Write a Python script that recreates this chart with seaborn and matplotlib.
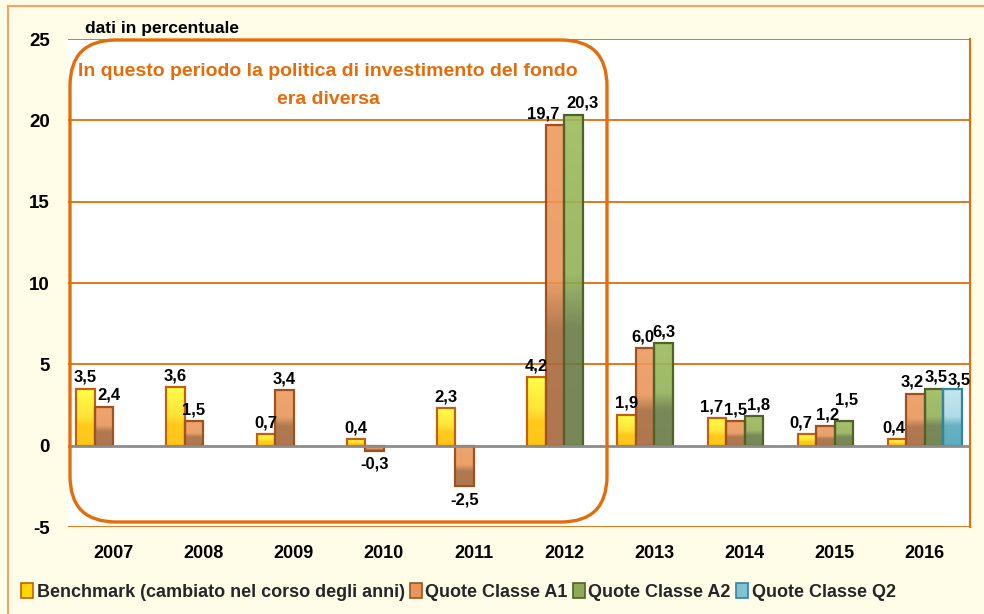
import numpy as np
import pandas as pd
import matplotlib
matplotlib.use("Agg")
import matplotlib.pyplot as plt
from matplotlib.colors import LinearSegmentedColormap
from matplotlib.patches import FancyBboxPatch, Rectangle, Patch
from matplotlib.transforms import IdentityTransform
import seaborn as sns

# ---- data -------------------------------------------------------------
anni = ["2007", "2008", "2009", "2010", "2011", "2012", "2013", "2014", "2015", "2016"]
serie = ["Benchmark (cambiato nel corso degli anni)", "Quote Classe A1",
         "Quote Classe A2", "Quote Classe Q2"]
benchmark = [3.5, 3.6, 0.7, 0.4, 2.3, 4.2, 1.9, 1.7, 0.7, 0.4]
classe_a1 = [2.4, 1.5, 3.4, -0.3, -2.5, 19.7, 6.0, 1.5, 1.2, 3.2]
classe_a2 = [np.nan, np.nan, np.nan, np.nan, np.nan, 20.3, 6.3, 1.8, 1.5, 3.5]
classe_q2 = [np.nan] * 9 + [3.5]
y_ticks = [-5, 0, 5, 10, 15, 20, 25]
nota = ["In questo periodo la politica di investimento del fondo", "era diversa"]

# ---- styling ----------------------------------------------------------
sns.set_theme(style="white")
plt.rcParams["font.family"] = ["Liberation Sans", "DejaVu Sans"]
plt.rcParams["font.weight"] = "bold"

ORANGE = "#E46C0A"
CREAM = "#FFFDE8"
# (bottom, lower-mid, upper-mid, top) colours of each series' vertical gradient
gradients = [
    ["#FFC000", "#FFC400", "#FFE020", "#FFFF33"],
    ["#A5683B", "#A86A3C", "#E8965A", "#EE9B5C"],
    ["#687A44", "#6A7C46", "#93B157", "#9CBB5A"],
    ["#4BA3B6", "#55A9BC", "#A8D8E4", "#BFE3EC"],
]
stops = [0, 0.36, 0.52, 1]
legend_colors = ["#FFD700", "#E8965A", "#8EAA56", "#7FC3D4"]
edges = ["#C06010", "#A0521E", "#4F6228", "#31859C"]

# label shifts (pixels) where neighbouring value labels would collide
label_shift = {
    ("2007", 1): (5, 0), ("2012", 1): (-12, 0), ("2012", 2): (9, 1),
    ("2013", 1): (-2, 0), ("2014", 0): (-5, 0), ("2014", 2): (5, 0),
    ("2015", 0): (-6, 0), ("2015", 1): (2, 0),
    ("2015", 2): (3, 10), ("2016", 0): (-3, 0), ("2016", 1): (-3, 0),
    ("2016", 2): (2, 0), ("2016", 3): (7, -3),
}

df = pd.DataFrame({
    "anno": np.tile(anni, 4),
    "serie": np.repeat(serie, len(anni)),
    "valore": benchmark + classe_a1 + classe_a2 + classe_q2,
}).dropna()

fig = plt.figure(figsize=(9.84, 6.14), dpi=100, facecolor=CREAM)
ax = fig.add_axes([68 / 984, 1 - 527 / 614, 902 / 984, 488 / 614])
ax.set_facecolor("white")

# outer frame of the figure
fig.patches.append(Rectangle((8, -20), 1100, 614 - 6 + 20, transform=IdentityTransform(),
                             fill=False, edgecolor="#F4A460", linewidth=1.5, zorder=0))

sns.barplot(data=df, x="anno", y="valore", hue="serie", order=anni, hue_order=serie,
            width=0.82, dodge=True, palette=[g[2] for g in gradients],
            legend=False, ax=ax, zorder=3, saturation=1)

ax.set_xlim(-0.5, 9.5)
ax.set_ylim(-5, 25)

# gradient fill clipped to each bar, plus value labels
for k, cont in enumerate(ax.containers):
    cmap = LinearSegmentedColormap.from_list(f"g{k}", list(zip(stops, gradients[k])))
    for bar in cont:
        h = bar.get_height()
        if np.isnan(h):
            continue
        x0, w = bar.get_x(), bar.get_width()
        xc = x0 + w / 2
        anno = anni[int(round(xc))]
        y_lo, y_hi = min(0, h), max(0, h)
        grad = np.linspace(0, 1, 256).reshape(-1, 1)
        im = ax.imshow(grad, extent=[x0, x0 + w, y_lo, y_hi], origin="lower", aspect="auto",
                       cmap=cmap, zorder=3, interpolation="bilinear", alpha=0.9)
        im.set_clip_path(bar)
        bar.set_facecolor("none")
        bar.set_edgecolor(edges[k])
        bar.set_linewidth(1.6)
        bar.set_zorder(4)
        lab = f"{h:.1f}".replace(".", ",")
        dx, dy = label_shift.get((anno, k), (0, 0))
        if h >= 0:
            ax.annotate(lab, (xc, h), xytext=(dx, 4 + dy), textcoords="offset pixels",
                        ha="center", va="bottom", fontsize=12, fontweight="bold",
                        color="black", zorder=6)
        else:
            ax.annotate(lab, (xc, h), xytext=(dx, -6 + dy), textcoords="offset pixels",
                        ha="center", va="top", fontsize=12, fontweight="bold",
                        color="black", zorder=6)

ax.set_xlim(-0.5, 9.5)
ax.set_ylim(-5, 25)

# horizontal grid and zero line
for yv in [5, 10, 15, 20, 25, -5]:
    ax.axhline(yv, color=ORANGE, linewidth=1.3, zorder=1)
ax.axhline(0, color="#8C8C8C", linewidth=2, zorder=5)

for side in ["top", "bottom", "left"]:
    ax.spines[side].set_visible(False)
ax.spines["right"].set_color(ORANGE)
ax.spines["right"].set_linewidth(1.5)

ax.set_yticks(y_ticks)
ax.set_yticklabels([str(v) for v in y_ticks])
ax.tick_params(axis="y", length=0, pad=13, labelsize=13.5)
ax.tick_params(axis="x", length=0, pad=13, labelsize=13)
for t in ax.get_xticklabels() + ax.get_yticklabels():
    t.set_fontweight("bold")
    t.set_color("black")
ax.set_xlabel("")
ax.set_ylabel("")

# rounded box around the earlier period, with its note
box = FancyBboxPatch((70, 614 - 522), 537, 482, boxstyle="round,pad=0,rounding_size=46",
                     transform=IdentityTransform(), fill=False, edgecolor=ORANGE,
                     linewidth=2.4, zorder=7, clip_on=False)
fig.patches.append(box)
for riga, y_px in zip(nota, [72, 99]):
    fig.text(328 / 984, 1 - y_px / 614, riga, ha="center", va="center", color=ORANGE,
             fontsize=14, fontweight="bold")

fig.text(85 / 984, 1 - 28 / 614, "dati in percentuale", ha="left", va="center",
         fontsize=12.5, fontweight="bold", color="black")

handles = [Patch(facecolor=legend_colors[k], edgecolor=edges[k], linewidth=1.2)
           for k in range(4)]
fig.legend(handles, serie, loc="center left", bbox_to_anchor=(14 / 984, 1 - 592 / 614),
           ncol=4, frameon=False, handlelength=0.65, handleheight=0.9, handletextpad=0.2,
           columnspacing=0.3, borderaxespad=0, prop={"size": 13, "weight": "bold"})

fig.savefig("out.png", dpi=100, facecolor=CREAM)
